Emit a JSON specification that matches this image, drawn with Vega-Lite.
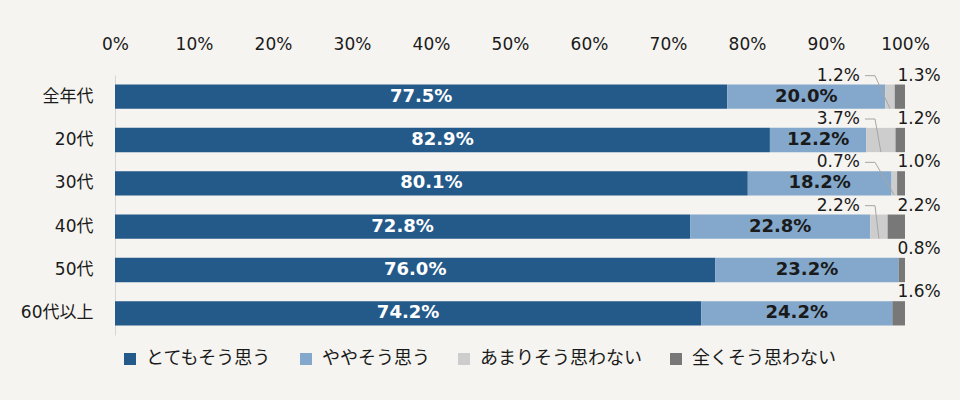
{
  "$schema": "https://vega.github.io/schema/vega-lite/v6.json",
  "autosize": "none",
  "width": 790,
  "height": 260,
  "padding": {"left": 115, "top": 75, "right": 55, "bottom": 65},
  "background": "#f5f4f0",
  "config": {
    "view": {"stroke": null},
    "font": "DejaVu Sans, Noto Sans CJK JP"
  },
  "data": {
    "values": [
      {"age": "全年代", "cat": "とてもそう思う", "k": 1, "value": 77.5},
      {"age": "全年代", "cat": "ややそう思う", "k": 2, "value": 20.0},
      {"age": "全年代", "cat": "あまりそう思わない", "k": 3, "value": 1.2},
      {"age": "全年代", "cat": "全くそう思わない", "k": 4, "value": 1.3},
      {"age": "20代", "cat": "とてもそう思う", "k": 1, "value": 82.9},
      {"age": "20代", "cat": "ややそう思う", "k": 2, "value": 12.2},
      {"age": "20代", "cat": "あまりそう思わない", "k": 3, "value": 3.7},
      {"age": "20代", "cat": "全くそう思わない", "k": 4, "value": 1.2},
      {"age": "30代", "cat": "とてもそう思う", "k": 1, "value": 80.1},
      {"age": "30代", "cat": "ややそう思う", "k": 2, "value": 18.2},
      {"age": "30代", "cat": "あまりそう思わない", "k": 3, "value": 0.7},
      {"age": "30代", "cat": "全くそう思わない", "k": 4, "value": 1.0},
      {"age": "40代", "cat": "とてもそう思う", "k": 1, "value": 72.8},
      {"age": "40代", "cat": "ややそう思う", "k": 2, "value": 22.8},
      {"age": "40代", "cat": "あまりそう思わない", "k": 3, "value": 2.2},
      {"age": "40代", "cat": "全くそう思わない", "k": 4, "value": 2.2},
      {"age": "50代", "cat": "とてもそう思う", "k": 1, "value": 76.0},
      {"age": "50代", "cat": "ややそう思う", "k": 2, "value": 23.2},
      {"age": "50代", "cat": "あまりそう思わない", "k": 3, "value": 0},
      {"age": "50代", "cat": "全くそう思わない", "k": 4, "value": 0.8},
      {"age": "60代以上", "cat": "とてもそう思う", "k": 1, "value": 74.2},
      {"age": "60代以上", "cat": "ややそう思う", "k": 2, "value": 24.2},
      {"age": "60代以上", "cat": "あまりそう思わない", "k": 3, "value": 0},
      {"age": "60代以上", "cat": "全くそう思わない", "k": 4, "value": 1.6}
    ]
  },
  "transform": [
    {"stack": "value", "groupby": ["age"], "sort": [{"field": "k", "order": "ascending"}], "as": ["x0", "x1"]},
    {"joinaggregate": [{"op": "max", "field": "x1", "as": "tot"}], "groupby": ["age"]},
    {"calculate": "(datum.x0 + datum.x1) / 2", "as": "mid"},
    {"calculate": "format(datum.value, '.1f') + '%'", "as": "lab"}
  ],
  "layer": [
    {
      "mark": {"type": "bar"},
      "encoding": {
        "y": {
          "field": "age",
          "type": "nominal",
          "sort": ["全年代", "20代", "30代", "40代", "50代", "60代以上"],
          "scale": {"paddingInner": 0.44, "paddingOuter": 0.22},
          "axis": {
            "title": null,
            "ticks": false,
            "domain": true,
            "domainColor": "#d6d6d6",
            "domainWidth": 1,
            "labelPadding": 22,
            "labelFontSize": 17,
            "labelColor": "#1a1a1a",
            "labelFont": "DejaVu Sans, Noto Sans CJK JP"
          }
        },
        "x": {
          "field": "x0",
          "type": "quantitative",
          "scale": {"domain": [0, 100], "nice": false},
          "axis": {
            "orient": "top",
            "title": null,
            "values": [0, 10, 20, 30, 40, 50, 60, 70, 80, 90, 100],
            "labelExpr": "datum.value + '%'",
            "labelFlush": false,
            "labelOverlap": false,
            "grid": false,
            "domain": false,
            "ticks": false,
            "labelPadding": 22,
            "labelFontSize": 17,
            "labelColor": "#1a1a1a",
            "labelFont": "DejaVu Sans"
          }
        },
        "x2": {"field": "x1"},
        "color": {
          "field": "cat",
          "type": "nominal",
          "sort": ["とてもそう思う", "ややそう思う", "あまりそう思わない", "全くそう思わない"],
          "scale": {
            "domain": ["とてもそう思う", "ややそう思う", "あまりそう思わない", "全くそう思わない"],
            "range": ["#245a8a", "#83a8cb", "#cdcdcd", "#787878"]
          },
          "legend": {
            "orient": "none",
            "direction": "horizontal",
            "legendX": 6,
            "legendY": 275,
            "title": null,
            "symbolType": "square",
            "symbolSize": 144,
            "symbolStrokeWidth": 0,
            "labelOffset": 7,
            "labelLimit": 400,
            "columnPadding": 25,
            "labelFontSize": 18,
            "labelColor": "#1a1a1a",
            "labelFont": "Noto Sans CJK JP"
          }
        }
      }
    },
    {
      "transform": [{"filter": "datum.k == 3 && datum.value > 0"}],
      "mark": {"type": "rule", "color": "#a6a6a6", "strokeWidth": 1, "xOffset": -40, "x2Offset": -30, "yOffset": -21},
      "encoding": {
        "y": {"field": "age", "type": "nominal", "sort": ["全年代", "20代", "30代", "40代", "50代", "60代以上"]},
        "x": {"field": "tot", "type": "quantitative"},
        "x2": {"field": "tot"}
      }
    },
    {
      "transform": [{"filter": "datum.k == 3 && datum.value > 0"}],
      "mark": {"type": "rule", "color": "#a6a6a6", "strokeWidth": 1, "xOffset": -30, "yOffset": -21, "y2Offset": 12},
      "encoding": {
        "y": {"field": "age", "type": "nominal", "sort": ["全年代", "20代", "30代", "40代", "50代", "60代以上"]},
        "y2": {"field": "age"},
        "x": {"field": "tot", "type": "quantitative"},
        "x2": {"field": "mid"}
      }
    },
    {
      "transform": [{"filter": "datum.k == 1"}],
      "mark": {"type": "text", "fontSize": 18, "fontWeight": "bold", "color": "#ffffff", "baseline": "middle", "align": "center"},
      "encoding": {
        "y": {"field": "age", "type": "nominal", "sort": ["全年代", "20代", "30代", "40代", "50代", "60代以上"]},
        "x": {"field": "mid", "type": "quantitative"},
        "text": {"field": "lab"}
      }
    },
    {
      "transform": [{"filter": "datum.k == 2"}],
      "mark": {"type": "text", "fontSize": 18, "fontWeight": "bold", "color": "#1a1a1a", "baseline": "middle", "align": "center"},
      "encoding": {
        "y": {"field": "age", "type": "nominal", "sort": ["全年代", "20代", "30代", "40代", "50代", "60代以上"]},
        "x": {"field": "mid", "type": "quantitative"},
        "text": {"field": "lab"}
      }
    },
    {
      "transform": [{"filter": "datum.k == 3 && datum.value > 0"}],
      "mark": {"type": "text", "fontSize": 17, "color": "#1a1a1a", "baseline": "middle", "align": "right", "dx": -45, "dy": -21},
      "encoding": {
        "y": {"field": "age", "type": "nominal", "sort": ["全年代", "20代", "30代", "40代", "50代", "60代以上"]},
        "x": {"field": "tot", "type": "quantitative"},
        "text": {"field": "lab"}
      }
    },
    {
      "transform": [{"filter": "datum.k == 4"}],
      "mark": {"type": "text", "fontSize": 17, "color": "#1a1a1a", "baseline": "middle", "align": "center", "dx": 14, "dy": -21},
      "encoding": {
        "y": {"field": "age", "type": "nominal", "sort": ["全年代", "20代", "30代", "40代", "50代", "60代以上"]},
        "x": {"field": "tot", "type": "quantitative"},
        "text": {"field": "lab"}
      }
    }
  ]
}
